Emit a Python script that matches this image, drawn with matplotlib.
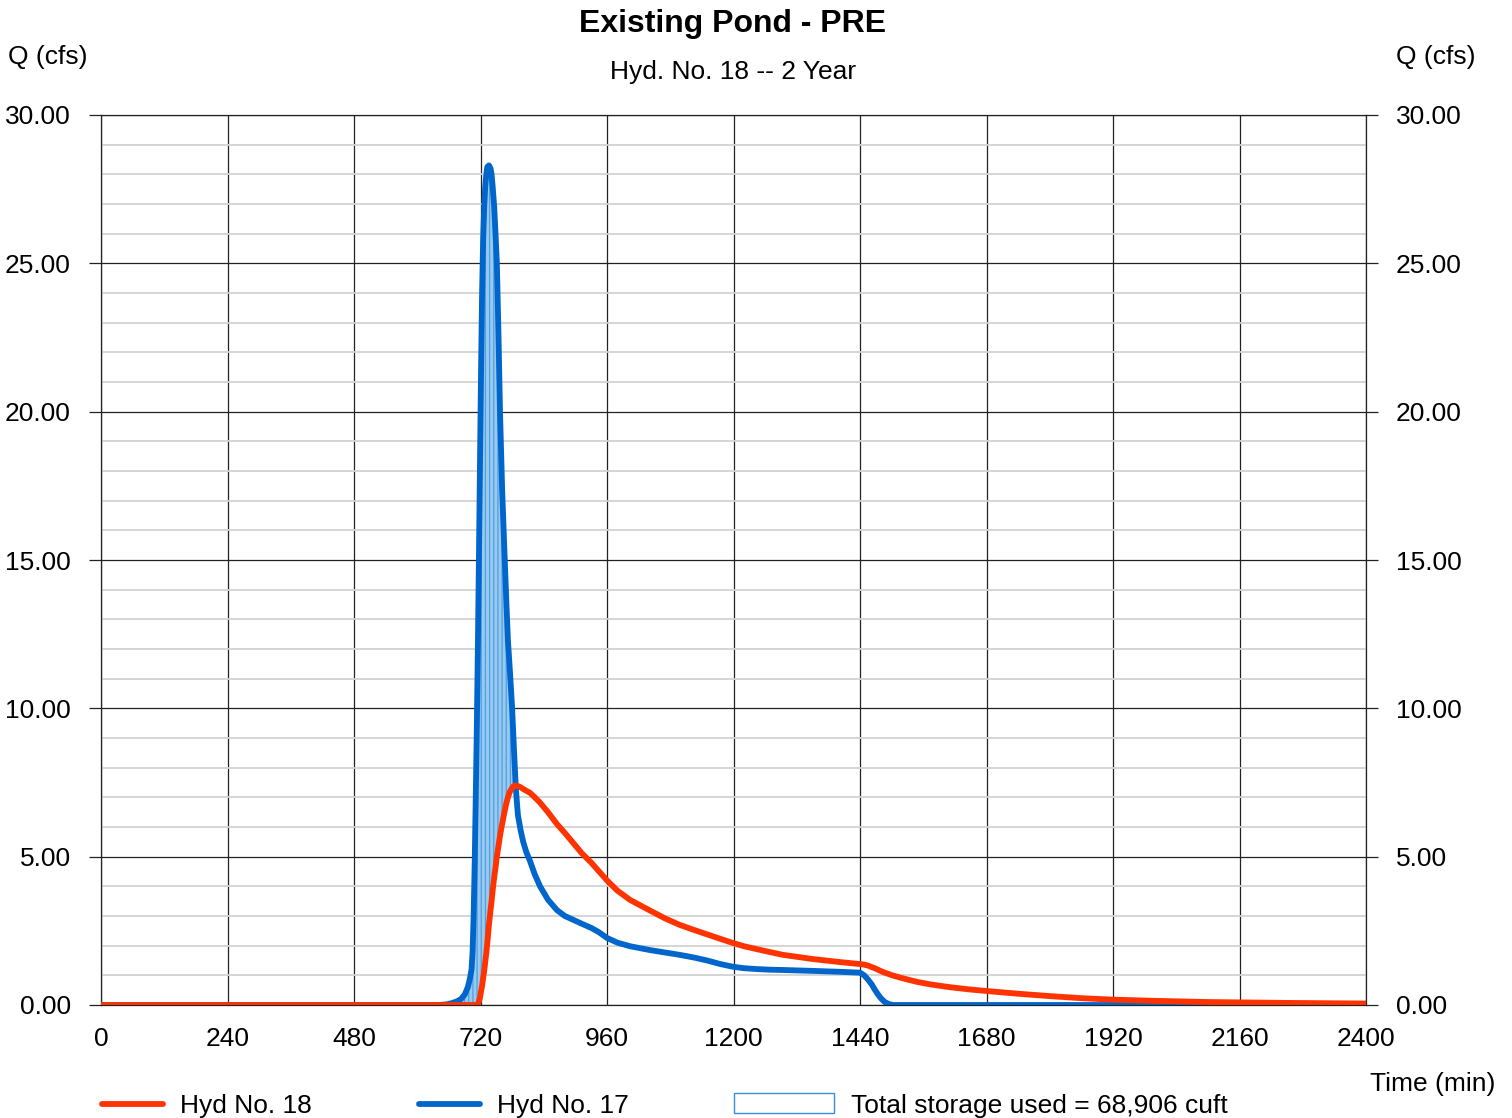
import numpy as np
import matplotlib
matplotlib.use("Agg")
import matplotlib.pyplot as plt
from matplotlib.lines import Line2D
from matplotlib.patches import Rectangle

plt.rcParams['font.family'] = ['Liberation Sans', 'DejaVu Sans']

# time (min), common to both hydrographs
t = [0, 600, 640, 655, 665, 675, 683, 690, 696, 700, 703, 705, 707, 709, 711, 713, 715,
     717, 719, 721, 723, 725, 727, 729, 731, 733, 736, 739, 741, 743, 746, 749, 751, 754,
     757, 761, 766, 769, 772, 776, 780, 783, 787, 791, 796, 801, 807, 814, 823, 833, 848,
     865, 880, 896, 912, 930, 945, 960, 980, 1004, 1042, 1070, 1098, 1125, 1150, 1175,
     1199, 1220, 1245, 1270, 1294, 1350, 1400, 1440, 1448, 1455, 1462, 1468, 1474, 1480,
     1487, 1495, 1503, 1515, 1530, 1548, 1575, 1611, 1645, 1681, 1740, 1800, 1860, 1920,
     2000, 2100, 2250, 2400]

# Hyd No. 17 (inflow)
q17 = [0, 0, 0, 0.02, 0.06, 0.12, 0.2, 0.35, 0.6, 0.9, 1.2, 1.8, 3.0, 4.8, 7.0, 9.3, 12.0,
       15.0, 18.2, 21.3, 24.0, 25.8, 26.9, 27.6, 28.0, 28.25, 28.3, 28.2, 28.0, 27.6, 26.9, 25.8, 25.0, 22.7,
       20.0, 17.4, 15.0, 13.6, 12.3, 11.2, 10.0, 8.8, 7.3, 6.4, 5.9, 5.5, 5.15, 4.85, 4.4, 4.0, 3.55,
       3.2, 3.0, 2.87, 2.74, 2.6, 2.45, 2.26, 2.1, 1.98, 1.85, 1.77, 1.69, 1.6, 1.5, 1.38,
       1.29, 1.24, 1.21, 1.19, 1.18, 1.15, 1.12, 1.09, 1.0, 0.86, 0.7, 0.52, 0.36, 0.22,
       0.1, 0.03, 0, 0, 0, 0, 0, 0, 0, 0, 0, 0, 0, 0,
       0, 0, 0, 0]

# Hyd No. 18 (outflow)
q18 = [0, 0, 0, 0, 0, 0, 0, 0, 0, 0, 0, 0, 0, 0, 0, 0, 0.03,
       0.12, 0.25, 0.45, 0.65, 0.9, 1.15, 1.45, 1.75, 2.1, 2.7, 3.2, 3.5, 3.85, 4.3, 4.7, 5.0, 5.35,
       5.7, 6.1, 6.55, 6.8, 7.0, 7.2, 7.32, 7.38, 7.4, 7.38, 7.34, 7.28, 7.22, 7.15, 7.0, 6.82, 6.5,
       6.1, 5.8, 5.46, 5.12, 4.8, 4.5, 4.2, 3.85, 3.54, 3.18, 2.92, 2.7, 2.53, 2.38, 2.23,
       2.09, 1.98, 1.88, 1.78, 1.69, 1.55, 1.45, 1.38, 1.36, 1.33, 1.28, 1.24, 1.19, 1.14,
       1.09, 1.04, 0.99, 0.93, 0.86, 0.78, 0.69, 0.6, 0.53, 0.47, 0.38, 0.3, 0.23, 0.18,
       0.14, 0.1, 0.07, 0.05]

xticks = [0, 240, 480, 720, 960, 1200, 1440, 1680, 1920, 2160, 2400]
yticks = [0, 5, 10, 15, 20, 25, 30]

red = '#ff3300'
blue = '#0066cc'

W, H = 1512, 1118
fig = plt.figure(figsize=(W / 100, H / 100), dpi=100)
ax = fig.add_axes([101 / W, 1 - 1005 / H, (1366 - 101) / W, (1005 - 115) / H])

tt = np.array(t, dtype=float)
a17 = np.array(q17)
a18 = np.array(q18)

plt.rcParams['hatch.linewidth'] = 0.9
ax.fill_between(tt, a18, a17, where=a17 >= a18, interpolate=True,
                facecolor='#98caf0', edgecolor='#4f9fe3', hatch='||||', linewidth=0, zorder=2)
ax.plot(tt, a17, color=blue, lw=4.2, zorder=3, solid_joinstyle='round')
ax.plot(tt, a18, color=red, lw=4.2, zorder=4, solid_joinstyle='round')

ax.set_xlim(0, 2400)
ax.set_ylim(0, 30)
ax.set_xticks(xticks)
ax.set_yticks(yticks)
ax.set_yticks(np.arange(0, 31, 1), minor=True)
ax.set_yticklabels(['%.2f' % v for v in yticks])
ax.set_xticklabels([str(v) for v in xticks])

ax.grid(True, which='minor', axis='y', color='#d2d2d2', lw=1.3, zorder=0)
ax.grid(True, which='major', axis='y', color='#222222', lw=0.9, zorder=1)
ax.grid(True, which='major', axis='x', color='#222222', lw=0.9, zorder=1)
for s in ax.spines.values():
    s.set_color('#222222')
    s.set_linewidth(0.9)

ax.tick_params(axis='y', which='major', length=8.6, width=0.9, pad=13, labelsize=19,
               left=True, right=True, labelleft=True, labelright=True, color='#222222')
ax.tick_params(axis='y', which='minor', length=0)
ax.tick_params(axis='x', length=0, pad=15.5, labelsize=19)

def fx(x):
    return x / W

def fy(y):
    return 1 - y / H

fig.text(fx(733), fy(24), 'Existing Pond - PRE', fontsize=23, fontweight='bold', ha='center', va='center')
fig.text(fx(733), fy(72), 'Hyd. No. 18 -- 2 Year', fontsize=19, ha='center', va='center')
fig.text(fx(8), fy(57), 'Q (cfs)', fontsize=19, ha='left', va='center')
fig.text(fx(1476), fy(57), 'Q (cfs)', fontsize=19, ha='right', va='center')
fig.text(fx(1495), fy(1084), 'Time (min)', fontsize=19, ha='right', va='center')

# legend
ly = fy(1104)
fig.add_artist(Line2D([fx(102), fx(163)], [ly, ly], color=red, lw=4.2, solid_capstyle='round'))
fig.text(fx(180), fy(1106), 'Hyd No. 18', fontsize=19, ha='left', va='center')
fig.add_artist(Line2D([fx(419), fx(480)], [ly, ly], color=blue, lw=4.2, solid_capstyle='round'))
fig.text(fx(497), fy(1106), 'Hyd No. 17', fontsize=19, ha='left', va='center')
fig.add_artist(Rectangle((fx(734), fy(1113)), (834 - 734) / W, 20 / H, transform=fig.transFigure,
                         facecolor='white', edgecolor='#3a8ee0', lw=1))
fig.text(fx(851), fy(1106), 'Total storage used = 68,906 cuft', fontsize=19, ha='left', va='center')

fig.savefig('out.png', dpi=100)
